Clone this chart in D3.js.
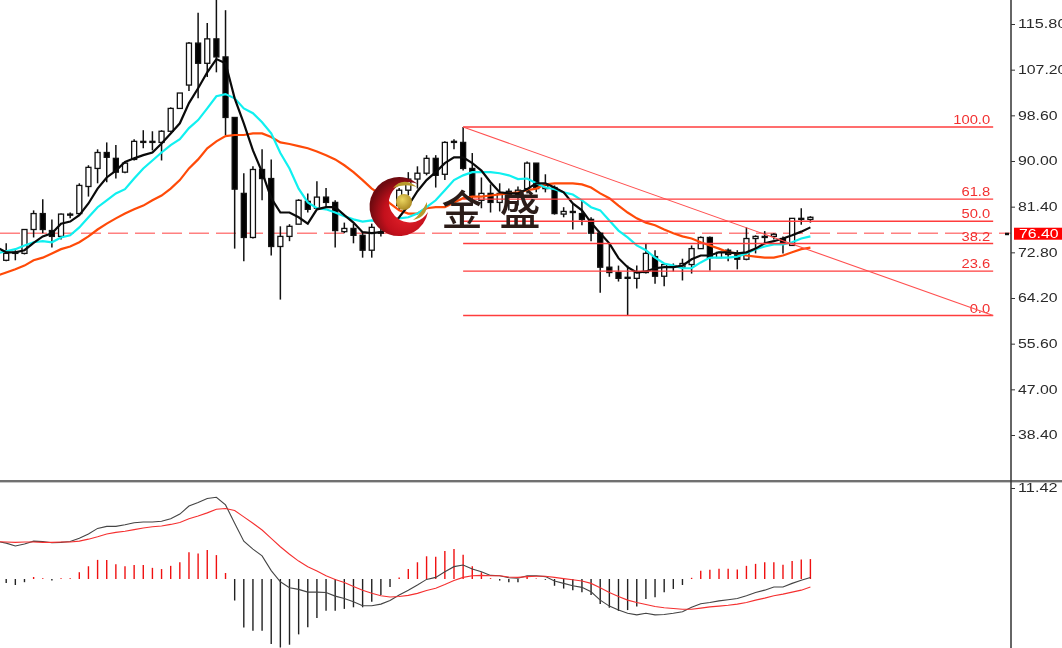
<!DOCTYPE html>
<html><head><meta charset="utf-8">
<script src="https://cdn.jsdelivr.net/npm/d3@7"></script>
<style>html,body{margin:0;padding:0;background:#fff;overflow:hidden}svg{display:block;filter:blur(0.35px)}</style>
</head><body><svg id="c" width="1062" height="648"></svg>
<script>
const highs=[74.5,73.2,77.1,80.7,82.8,79.0,80.1,80.3,85.8,89.2,92.2,93.5,93.0,89.9,94.1,95.8,95.6,95.8,100.1,102.8,112.4,117.9,116.0,122.2,118.4,98.2,87.7,89.0,92.2,90.3,77.7,78.1,82.8,83.9,86.2,84.9,82.6,78.4,78.2,76.7,78.2,77.7,80.3,84.9,87.9,89.0,91.1,91.1,93.7,94.1,96.4,91.5,86.9,85.6,85.8,84.8,85.2,89.9,89.6,87.5,85.4,81.3,82.0,82.6,79.4,76.6,74.5,70.3,70.3,70.3,74.5,73.2,70.7,70.7,71.6,74.1,75.8,75.8,72.8,73.5,73.2,77.5,76.0,76.8,76.4,75.8,79.2,81.1,79.6];
const lows=[71.1,71.3,72.4,75.6,76.4,73.7,75.2,79.2,79.8,83.3,85.8,86.0,86.7,87.7,90.1,92.4,92.0,90.1,95.4,99.9,103.2,101.8,105.8,106.7,94.9,73.5,71.1,75.4,82.6,72.2,63.9,74.9,78.1,80.3,80.9,81.3,73.7,76.4,74.5,71.8,71.8,75.8,76.9,80.7,83.5,84.8,87.3,85.0,86.4,92.2,88.2,81.6,81.1,80.3,80.5,80.7,81.6,83.9,84.1,84.1,79.9,79.4,77.1,77.9,74.9,65.2,68.2,67.3,60.9,66.0,68.8,66.9,66.4,69.2,67.5,68.8,73.5,69.4,71.8,71.1,69.6,71.3,72.6,74.5,75.2,72.6,74.1,78.0,78.4];
const opens=[71.3,72.8,72.6,77.1,80.1,76.9,75.8,80.0,80.1,85.2,88.6,91.6,90.5,87.9,90.3,93.7,93.7,93.5,95.6,99.9,104.3,112.2,108.4,113.0,109.6,98.2,83.9,75.6,88.4,86.7,73.9,75.8,78.1,82.4,81.1,83.2,82.2,76.7,77.3,76.0,73.2,76.6,77.7,81.6,84.5,86.6,87.7,90.5,87.5,93.7,93.5,88.6,82.6,83.9,82.2,84.3,83.7,84.8,89.6,84.8,85.0,80.0,80.5,80.1,79.0,76.4,70.0,69.0,68.1,67.9,69.0,72.0,68.3,70.3,70.0,70.5,73.5,75.6,71.8,73.2,72.4,71.5,75.4,75.8,75.8,75.4,74.1,79.2,79.0];
const closes=[72.6,72.6,77.1,80.1,77.1,75.8,80.0,79.8,85.4,88.8,91.6,90.7,87.9,89.6,93.7,93.5,93.5,95.6,99.9,102.8,112.2,108.4,113.0,109.6,98.2,84.7,75.6,88.4,86.7,73.9,75.8,77.7,82.6,80.9,83.2,82.2,76.9,77.3,76.0,73.2,77.5,76.4,79.8,84.5,86.6,87.7,90.5,87.3,93.5,93.5,88.6,83.3,83.9,82.2,83.9,83.7,84.5,89.6,84.8,85.4,80.1,80.5,80.3,79.0,76.4,70.0,69.0,67.9,67.9,69.0,72.6,68.3,70.5,70.1,70.7,73.5,75.6,71.8,72.8,72.4,71.5,75.4,75.8,75.6,76.2,74.5,79.2,79.0,79.4];
// moving averages: first value belongs to the bar just left of the window (index -1)
const maFast=[73.7,72.8,72.8,73.2,74.6,75.8,76.4,78.2,78.6,79.8,82.0,84.8,86.9,88.2,89.8,90.5,91.1,91.6,93.3,95.2,97.1,100.9,103.7,106.7,109.2,108.4,101.8,97.1,92.0,87.9,83.0,80.3,80.3,79.4,78.2,80.9,81.3,81.3,79.8,78.4,76.6,76.4,76.6,77.3,79.4,81.6,84.3,86.4,87.9,89.6,90.7,90.7,89.6,88.2,86.0,84.1,83.9,83.9,84.7,85.8,85.8,85.0,84.1,82.0,80.7,78.4,76.4,74.5,71.7,70.0,69.0,69.2,69.8,70.0,70.0,70.3,71.5,72.2,72.2,72.8,72.8,72.6,72.8,73.5,74.5,74.9,75.4,76.0,76.7,77.5];
const maMid=[72.6,73.0,73.4,74.1,74.7,74.9,74.7,75.6,76.0,77.5,79.4,81.3,82.6,83.9,84.7,86.7,88.6,90.1,91.6,93.0,94.1,96.2,97.7,99.9,102.2,102.6,101.8,99.9,99.0,97.3,95.2,91.5,88.6,84.8,82.2,81.1,80.9,80.3,79.6,79.0,78.6,78.8,78.4,78.6,79.2,79.4,80.1,81.3,82.6,84.5,86.4,87.3,87.9,87.9,87.9,87.7,87.3,86.6,86.7,85.8,85.0,84.7,84.1,83.7,82.6,81.3,80.7,78.8,76.9,75.6,74.1,73.2,71.8,70.7,70.3,69.8,69.8,70.9,71.8,71.8,71.8,72.0,72.6,73.4,73.9,74.3,74.3,74.7,75.4,75.8];
const maSlow=[68.4,69.0,69.6,70.3,71.3,71.8,72.6,73.4,73.9,74.7,75.8,77.1,78.2,79.2,80.1,80.9,81.6,82.6,83.5,84.8,86.4,88.6,90.3,92.4,93.7,94.7,94.9,94.9,95.2,95.2,94.5,93.5,93.2,92.8,92.4,91.8,91.1,90.3,89.2,87.9,86.4,84.8,83.7,82.0,80.7,80.1,80.1,81.1,81.3,81.3,82.2,83.0,83.3,83.3,83.5,83.7,83.9,84.1,84.5,84.8,85.6,85.8,85.8,85.8,85.6,85.0,83.9,83.0,81.6,80.3,79.2,78.4,77.9,77.1,76.4,75.8,75.4,74.7,74.1,73.5,72.8,72.6,72.2,72.0,71.8,71.8,72.2,72.8,73.4,73.7];
const macdHist=[-0.5,-0.75,-0.4,0.25,0.1,-0.2,0.1,0.1,0.85,1.6,2.4,2.4,1.85,1.6,1.75,1.75,1.4,1.25,1.65,2.1,3.35,3.2,3.65,3.0,0.75,-2.7,-6.1,-6.5,-6.5,-8.15,-8.6,-8.25,-6.95,-6.05,-4.9,-4.0,-4.0,-3.75,-3.55,-3.55,-2.85,-2.0,-1.0,0.2,1.25,2.1,2.85,2.8,3.5,3.75,3.05,1.6,0.85,0.1,-0.2,-0.4,-0.4,0.35,0.05,-0.1,-0.85,-1.2,-1.4,-1.65,-2.0,-3.15,-3.6,-4.0,-3.9,-3.45,-2.5,-2.3,-1.65,-1.25,-0.75,0.15,1.05,1.15,1.3,1.3,1.2,1.65,1.9,2.1,2.1,1.8,2.25,2.45,2.5];
const macdLine=[4.7,4.5,4.15,4.4,4.75,4.7,4.55,4.6,4.7,5.1,5.65,6.35,6.6,6.6,6.8,7.05,7.15,7.15,7.25,7.55,8.15,9.15,9.6,10.1,10.25,9.3,7.0,4.75,3.75,2.9,1.05,-0.35,-1.1,-1.3,-1.65,-1.65,-1.7,-2.15,-2.45,-2.85,-3.35,-3.35,-3.15,-2.7,-2.0,-1.4,-0.75,-0.05,0.2,0.9,1.55,1.75,1.25,0.9,0.45,0.4,0.15,0.1,0.4,0.4,0.3,-0.25,-0.55,-0.85,-1.05,-1.6,-2.65,-3.4,-3.9,-4.3,-4.5,-4.3,-4.5,-4.45,-4.3,-4.1,-3.55,-3.1,-2.95,-2.75,-2.6,-2.45,-2.1,-1.7,-1.4,-1.0,-1.0,-0.55,-0.15,0.2];
const macdSignal=[4.7,4.65,4.6,4.65,4.65,4.6,4.6,4.65,4.65,4.75,5.0,5.3,5.65,5.85,6.0,6.2,6.4,6.55,6.65,6.85,7.1,7.55,7.9,8.3,8.75,8.85,8.6,7.8,7.0,6.15,5.1,4.05,3.1,2.25,1.55,1.0,0.4,-0.05,-0.45,-0.95,-1.4,-1.8,-2.1,-2.25,-2.2,-2.05,-1.8,-1.45,-1.15,-0.7,-0.2,0.2,0.4,0.45,0.4,0.4,0.25,0.2,0.3,0.35,0.35,0.2,0.05,-0.1,-0.25,-0.55,-1.1,-1.7,-2.2,-2.65,-2.95,-3.2,-3.45,-3.6,-3.7,-3.8,-3.8,-3.65,-3.5,-3.4,-3.3,-3.15,-2.95,-2.65,-2.4,-2.1,-1.9,-1.65,-1.4,-1.0];
const priceTicks=[115.8,107.2,98.6,90.0,81.4,72.8,64.2,55.6,47.0,38.4];
const macdTicks=[11.42];
const fibLevels=[0,23.6,38.2,50,61.8,100];
const fibHigh=96.4, fibLow=60.9, fibStartBar=50, fibEndBar=108;
const lastPrice=76.4;
const brandChars=["金","盛"];

const svg=d3.select("#c");
const plotRight=1011;
const x=d3.scaleLinear().domain([0,88]).range([6.2,810.4]);
const y=d3.scaleLinear().domain([38.4,115.8]).range([435,24]);
const yM=d3.scaleLinear().domain([0,11.42]).range([579,488]);
const FONT="'Liberation Sans',Arial,sans-serif";
const wideLen=(s,d)=>[...s].reduce((a,c)=>a+(c==="."?d/2:d),0);

const defs=svg.append("defs");
const cp=defs.append("clipPath").attr("id","plot");
cp.append("rect").attr("width",plotRight).attr("height",480);
const rg=defs.append("radialGradient").attr("id","crescent").attr("cx","0.62").attr("cy","0.62").attr("r","0.62");
rg.append("stop").attr("offset","0").attr("stop-color","#e8232b");
rg.append("stop").attr("offset","0.6").attr("stop-color","#c3101c");
rg.append("stop").attr("offset","1").attr("stop-color","#6f0a10");
const gg=defs.append("radialGradient").attr("id","gold").attr("cx","0.4").attr("cy","0.35").attr("r","0.7");
gg.append("stop").attr("offset","0").attr("stop-color","#ecd660");
gg.append("stop").attr("offset","1").attr("stop-color","#a8851f");

const main=svg.append("g").attr("clip-path","url(#plot)");
// last price dashed line
main.append("line").attr("x1",0).attr("x2",plotRight).attr("y1",y(lastPrice)).attr("y2",y(lastPrice))
  .attr("stroke","#ff8080").attr("stroke-width",1.6).attr("stroke-dasharray","20 7");
// candles
const idx=d3.range(highs.length);
const cg=main.append("g");
cg.selectAll("line").data(idx).join("line")
  .attr("x1",i=>x(i)).attr("x2",i=>x(i)).attr("y1",i=>y(highs[i])).attr("y2",i=>y(lows[i]))
  .attr("stroke","#111").attr("stroke-width",1.5);
cg.selectAll("rect").data(idx).join("rect")
  .attr("x",i=>x(i)-2.5).attr("width",5)
  .attr("y",i=>y(Math.max(opens[i],closes[i])))
  .attr("height",i=>Math.abs(y(opens[i])-y(closes[i])))
  .attr("fill",i=>closes[i]>opens[i]?"#fff":"#000")
  .attr("stroke","#111").attr("stroke-width",1.3);
// moving averages
const maPath=d3.line().x((d,i)=>x(i-1)).y(d=>y(d));
[[maSlow,"#ff4a08"],[maMid,"#10f0f0"],[maFast,"#0a0a0a"]].forEach(([s,c])=>{
  main.append("path").attr("d",maPath(s)).attr("fill","none").attr("stroke",c).attr("stroke-width",2.2);
});
// fibonacci
const fibY=l=>y(fibLow+(fibHigh-fibLow)*l/100);
const fg=main.append("g");
fg.selectAll("line").data(fibLevels).join("line")
  .attr("x1",x(fibStartBar)).attr("x2",x(fibEndBar)).attr("y1",fibY).attr("y2",fibY)
  .attr("stroke","#ff3c3c").attr("stroke-width",1.3);
main.append("line").attr("x1",x(fibStartBar)).attr("y1",fibY(100)).attr("x2",x(fibEndBar)).attr("y2",fibY(0))
  .attr("stroke","#ff5050").attr("stroke-width",1.1);
fg.selectAll("text").data(fibLevels).join("text")
  .attr("x",x(fibEndBar)-3).attr("y",l=>fibY(l)-3).attr("text-anchor","end")
  .attr("font-family",FONT).attr("font-size",12).attr("fill","#f23030")
  .attr("textLength",l=>wideLen(l.toFixed(1),8.2)).attr("lengthAdjust","spacingAndGlyphs")
  .text(l=>l.toFixed(1));
// logo
const logo=svg.append("g");
logo.append("path").attr("d","M418,184 A29.5,29.5 0 1 0 428,212 A21,21 0 0 1 400,220 A21,21 0 0 1 389,200 A21,21 0 0 1 418,184 Z").attr("fill","url(#crescent)");
logo.append("circle").attr("cx",404).attr("cy",202).attr("r",8).attr("fill","url(#gold)");
logo.append("path").attr("d","M393,188 Q403,176 417,187 Q405,183 393,188 Z").attr("fill","#b89a2c");
logo.append("path").attr("d","M413,220 Q428,217 427,202 Q421,214 413,220 Z").attr("fill","#b89a2c");
// brand text
svg.selectAll("text.brand").data(brandChars).join("text").attr("class","brand")
  .attr("x",(d,i)=>462+i*58).attr("y",225).attr("text-anchor","middle")
  .attr("font-family","'Noto Sans CJK SC'").attr("font-size",41).attr("font-weight",500).attr("fill","#2b1c18").text(d=>d);
// macd pane
const low=svg.append("g");
low.selectAll("line").data(macdHist).join("line")
  .attr("x1",(d,i)=>x(i)).attr("x2",(d,i)=>x(i)).attr("y1",yM(0)).attr("y2",d=>yM(d))
  .attr("stroke",d=>d>=0?"#f01010":"#222").attr("stroke-width",1.4);
low.append("path").attr("d",d3.line().x((d,i)=>x(i-1)).y(d=>yM(d))(macdLine)).attr("fill","none").attr("stroke","#444").attr("stroke-width",1.1);
low.append("path").attr("d",d3.line().x((d,i)=>x(i-1)).y(d=>yM(d))(macdSignal)).attr("fill","none").attr("stroke","#f53030").attr("stroke-width",1.1);
// frame
svg.append("rect").attr("x",0).attr("y",480).attr("width",1062).attr("height",2.4).attr("fill","#707070");
svg.append("line").attr("x1",plotRight).attr("x2",plotRight).attr("y1",0).attr("y2",648).attr("stroke","#333").attr("stroke-width",1.5);
// axes
function styleAxis(g){
  g.select(".domain").remove();
  g.selectAll(".tick line").attr("stroke","#333");
  g.selectAll(".tick text").attr("font-family",FONT).attr("font-size",12).attr("fill","#2a2a2a")
    .attr("textLength",function(){return wideLen(this.textContent,8.8);}).attr("lengthAdjust","spacingAndGlyphs");
}
svg.append("g").attr("transform",`translate(${plotRight},0)`)
  .call(d3.axisRight(y).tickValues(priceTicks).tickSize(4).tickPadding(3).tickFormat(d3.format(".2f"))).call(styleAxis);
svg.append("g").attr("transform",`translate(${plotRight},0)`)
  .call(d3.axisRight(yM).tickValues(macdTicks).tickSize(4).tickPadding(3).tickFormat(d3.format(".2f"))).call(styleAxis);
// last price label
const ly=y(lastPrice);
svg.append("rect").attr("x",1014).attr("y",ly-5.5).attr("width",48).attr("height",12).attr("fill","#f00");
svg.append("text").attr("x",1019).attr("y",ly+4.5).attr("font-family",FONT).attr("font-size",12).attr("fill","#fff")
  .attr("textLength",wideLen(lastPrice.toFixed(2),8.8)).attr("lengthAdjust","spacingAndGlyphs").text(lastPrice.toFixed(2));
svg.append("rect").attr("x",1005).attr("y",ly-0.5).attr("width",4).attr("height",2.5).attr("fill","#111");
</script></body></html>
